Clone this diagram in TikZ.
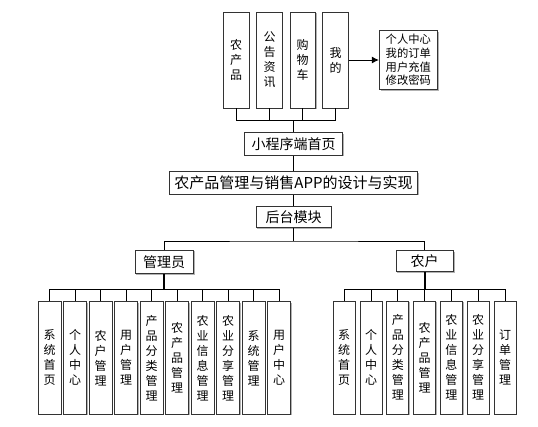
\documentclass[tikz,border=0pt]{standalone}
\usepackage{fontspec}
\setmainfont{Noto Sans CJK SC}
\usetikzlibrary{shadows,arrows.meta}
\begin{document}
\begin{tikzpicture}[x=1pt,y=-1pt,
  box/.style={draw=black!80,fill=white,line width=0.9pt,inner sep=0pt,align=center,
    drop shadow={shadow xshift=1.2pt,shadow yshift=-1.2pt,fill=black!30,opacity=1}},
  topbox/.style={box,minimum width=25.5pt,minimum height=96pt,font=\fontsize{12}{15}\selectfont},
  leafa/.style={box,minimum width=23pt,minimum height=112.5pt,font=\fontsize{12}{15}\selectfont},
  leafb/.style={box,minimum width=22pt,minimum height=113pt,font=\fontsize{12}{15}\selectfont},
  hbox/.style={box,font=\fontsize{14}{16}\selectfont},
  conn/.style={draw=black,line width=0.9pt}]
\useasboundingbox (0,0) rectangle (538,426);

% top row
\node[topbox] (t1) at (236.2,60) {农\\产\\品};
\node[topbox] (t2) at (269.5,60) {公\\告\\资\\讯};
\node[topbox] (t3) at (302.7,60) {购\\物\\车};
\node[topbox] (t4) at (335.5,60) {我\\的};
\node[box,minimum width=58pt,minimum height=58.6pt,font=\fontsize{11.3}{13.6}\selectfont] (me) at (408.3,60) {个人中心\\我的订单\\用户充值\\修改密码};
\draw[conn,-{Latex[length=7pt,width=7pt]}] (t4.east) -- (me.west);

% main column
\node[hbox,minimum width=98.4pt,minimum height=22.7pt] (home) at (293.5,143.7) {小程序端首页};
\node[hbox,minimum width=248.4pt,minimum height=22.3pt,font=\fontsize{15}{17}\selectfont] (title) at (293.5,182.9) {农产品管理与销售APP的设计与实现};
\node[hbox,minimum width=75pt,minimum height=21.7pt] (back) at (293.5,216.9) {后台模块};

\coordinate (topbus) at (293.5,120);
\draw[conn] (t1.south) |- (t4.south |- topbus) -- (t4.south);
\draw[conn] (t2.south) -- (t2.south |- topbus);
\draw[conn] (t3.south) -- (t3.south |- topbus);
\draw[conn] (topbus) -- (home.north);
\draw[conn] (home) -- (title);
\draw[conn] (title) -- (back);

% second level
\node[hbox,minimum width=58.3pt,minimum height=23.3pt] (admin) at (164.2,261.7) {管理员};
\node[hbox,minimum width=57.3pt,minimum height=21pt] (farm) at (424.7,261.2) {农户};
\coordinate (split) at (293.5,241);
\draw[conn] (back.south) -- (split);
\draw[conn] (admin.north) |- (split) -| (farm.north);

% admin leaves
\foreach \i/\t in {0/{系\\统\\首\\页},1/{个\\人\\中\\心},2/{农\\户\\管\\理},3/{用\\户\\管\\理},4/{产\\品\\分\\类\\管\\理},5/{农\\产\\品\\管\\理},6/{农\\业\\信\\息\\管\\理},7/{农\\业\\分\\享\\管\\理},8/{系\\统\\管\\理},9/{用\\户\\中\\心}}{
  \node[leafa] (a\i) at ({49.7+25.5*\i},357.8) {\t};
}
\coordinate (abus) at (164.2,289.3);
\draw[conn,line width=2pt] (admin.south) -- (abus);
\draw[conn] (a0.north |- abus) -- (a9.north |- abus);
\foreach \i in {0,...,9}{ \draw[conn] (a\i.north) -- (a\i.north |- abus); }

% farmer leaves
\foreach \i/\t in {0/{系\\统\\首\\页},1/{个\\人\\中\\心},2/{产\\品\\分\\类\\管\\理},3/{农\\产\\品\\管\\理},4/{农\\业\\信\\息\\管\\理},5/{农\\业\\分\\享\\管\\理},6/{订\\单\\管\\理}}{
  \node[leafb] (b\i) at ({344.2+26.8*\i},357.5) {\t};
}
\coordinate (bbus) at (424.7,289);
\draw[conn,line width=2pt] (farm.south) -- (bbus);
\draw[conn] (b0.north |- bbus) -- (b6.north |- bbus);
\foreach \i in {0,...,6}{ \draw[conn] (b\i.north) -- (b\i.north |- bbus); }
\end{tikzpicture}
\end{document}
